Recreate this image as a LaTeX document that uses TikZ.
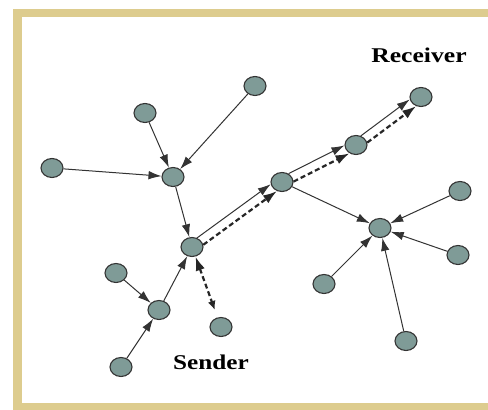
\documentclass[tikz,border=0pt]{standalone}
\usepackage{fontspec}
\setmainfont{Liberation Serif}
\usetikzlibrary{arrows.meta,shapes.geometric}
\definecolor{framegold}{HTML}{DDCC8E}
\definecolor{nodefill}{HTML}{7F9B97}
\definecolor{edgegray}{HTML}{333333}
\tikzset{
  peer/.style={ellipse, draw=edgegray, fill=nodefill, line width=1.1pt,
    minimum width=22pt, minimum height=19pt, inner sep=0pt},
  link/.style={draw=edgegray, line width=1pt, -{Latex[length=13pt,width=8.5pt]}},
  route/.style={draw=black!85, line width=2.2pt, dash pattern=on 5pt off 3pt,
    -{Latex[length=14pt,width=9.5pt]}},
  tag/.style={font=\fontsize{21}{21}\selectfont\bfseries, inner sep=0pt}
}
\begin{document}
\begin{tikzpicture}[x=1pt,y=-1pt]
  \useasboundingbox (0,0) rectangle (488,410);
  \clip (0,0) rectangle (488,410);
  % frame
  \fill[white] (0,0) rectangle (488,410);
  \fill[framegold] (13,9) rectangle (500,420);
  \fill[white] (22,17) rectangle (500,403);

  % peers
  \node[peer] (R) at (421,97) {};
  \node[peer] (A) at (255,86) {};
  \node[peer] (B) at (145,113) {};
  \node[peer] (C) at (52,168) {};
  \node[peer] (D) at (173,177) {};
  \node[peer] (E) at (282,182) {};
  \node[peer] (F) at (356,145) {};
  \node[peer] (G) at (192,247) {};
  \node[peer] (H) at (380,228) {};
  \node[peer] (I) at (460,191) {};
  \node[peer] (J) at (458,255) {};
  \node[peer] (K) at (116,273) {};
  \node[peer] (L) at (159,310) {};
  \node[peer] (M) at (221,327) {};
  \node[peer] (N) at (324,284) {};
  \node[peer] (O) at (406,341) {};
  \node[peer] (P) at (121,367) {};

  % labels
  \node[tag] (recv) at (419,55) {\scalebox{1.22}[1]{Receiver}};
  \node[tag] (send) at (211,362) {\scalebox{1.2}[1]{Sender}};

  % overlay links
  \draw[link] (B) -- (D);
  \draw[link] (A) -- (D);
  \draw[link] (C) -- (D);
  \draw[link] (D) -- (G);
  \draw[link] (K) -- (L);
  \draw[link] (P) -- (L);
  \draw[link] (L) -- (G);
  \draw[link] (E) -- (H);
  \draw[link] (I) -- (H);
  \draw[link] (J) -- (H);
  \draw[link] (N) -- (H);
  \draw[link] (O) -- (H);

  % links along the route, each with the dashed message path beside it
  \draw[link] (G.61) -- (E.191);
  \draw[route] (G.11) -- (E.241);
  \draw[link] (E.52) -- (F.182);
  \draw[route] (E.2) -- (F.232);
  \draw[link] (F.62) -- (R.192);
  \draw[route] (F.12) -- (R.242);

  % sender to its entry peer
  \draw[route, {Latex[length=14pt,width=9.5pt]}-{Latex[length=9pt,width=8pt]}, shorten >=8pt] (G) -- (M);
\end{tikzpicture}
\end{document}
